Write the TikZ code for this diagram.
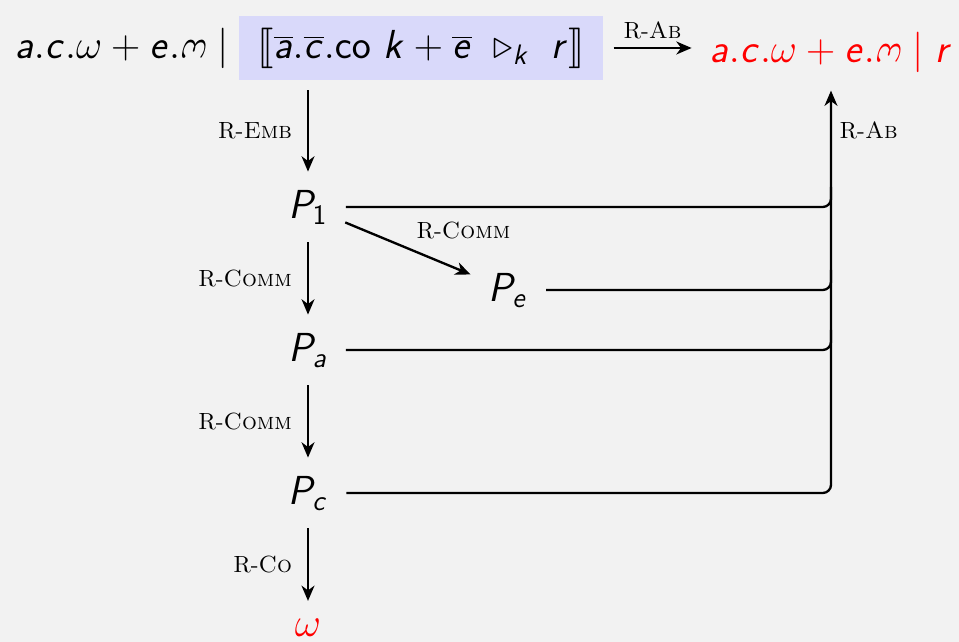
\documentclass[tikz,border=0pt]{standalone}
\usepackage{stmaryrd}
\usepackage{graphicx}
\usetikzlibrary{positioning,arrows.meta}

% sans serif letters in math, as on a slide
\DeclareSymbolFont{sfit}{OT1}{cmss}{m}{sl}
\DeclareSymbolFont{sfup}{OT1}{cmss}{m}{n}
\DeclareMathSymbol{a}{\mathalpha}{sfit}{`a}
\DeclareMathSymbol{c}{\mathalpha}{sfit}{`c}
\DeclareMathSymbol{e}{\mathalpha}{sfit}{`e}
\DeclareMathSymbol{k}{\mathalpha}{sfit}{`k}
\DeclareMathSymbol{r}{\mathalpha}{sfit}{`r}
\DeclareMathSymbol{P}{\mathalpha}{sfit}{`P}
\DeclareMathSymbol{1}{\mathalpha}{sfup}{`1}

\newcommand{\revomega}{\mathord{\rotatebox[origin=c]{180}{$\omega$}}}

\definecolor{bgcol}{HTML}{F2F2F2}
\definecolor{boxcol}{HTML}{D9D9FA}

\tikzset{
  proc/.style={font=\LARGE},
  lbl/.style={font=\normalsize},
  reduce/.style={->, shorten <=4pt, shorten >=4pt},
  branch/.style={rounded corners=3.5pt, shorten <=4pt}
}

\begin{document}
\begin{tikzpicture}[x=0.015cm, y=-0.015cm, line width=1pt, >={Stealth[length=6.5pt,width=5.5pt,inset=2pt]}]
  \useasboundingbox[fill=bgcol] (0,0) rectangle (959,642);

  % top row
  \node[proc, fill=boxcol, inner xsep=8pt, inner ysep=5pt] (box) at (421,48) {$\llbracket \overline{a}.\overline{c}.\mathsf{co}\ k + \overline{e}\ \triangleright_k\ r \rrbracket$};
  \node[proc, left=0pt of box] (lhs) {$a.c.\omega + e.\revomega \mid$};
  \node[proc, text=red] (res) at (831,52) {$a.c.\omega + e.\revomega \mid r$};

  % reductions
  \node[proc] (P1) at (308,207) {$P_1$};
  \node[proc] (Pe) at (508,290) {$P_e$};
  \node[proc] (Pa) at (308,350) {$P_a$};
  \node[proc] (Pc) at (308,493) {$P_c$};
  \node[proc, text=red] (om) at (308,628) {$\omega$};

  \draw[reduce] (box.east) -- (box.east -| res.west) node[lbl, midway, above] {R-\textsc{Ab}};
  \draw[reduce] (box.south -| P1) -- (P1) node[lbl, midway, left=3pt] {R-\textsc{Emb}};
  \draw[reduce] (P1) -- (Pa) node[lbl, midway, left=3pt] {R-\textsc{Comm}};
  \draw[reduce] (Pa) -- (Pc) node[lbl, midway, left=3pt] {R-\textsc{Comm}};
  \draw[reduce] (Pc) -- (om) node[lbl, midway, left=3pt] {R-\textsc{Co}};
  \draw[reduce] (P1) -- (Pe) node[lbl, pos=0.5, above right] {R-\textsc{Comm}};

  % abort from every state
  \draw[branch] (P1.east) -- (P1.east -| res) -- ++(0,-20);
  \draw[branch] (Pe.east) -- (Pe.east -| res) -- ++(0,-20);
  \draw[branch] (Pa.east) -- (Pa.east -| res) -- ++(0,-20);
  \draw[reduce, branch] (Pc.east) -- (Pc.east -| res) -- (res.south) node[lbl, pos=0.88, right] {R-\textsc{Ab}};
\end{tikzpicture}
\end{document}
